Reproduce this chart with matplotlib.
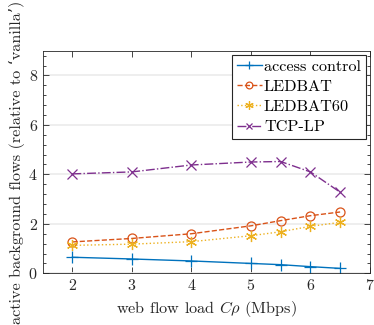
import numpy as np
import matplotlib.pyplot as plt
from matplotlib.ticker import MultipleLocator

plt.rcParams['font.family'] = ['cmr10', 'DejaVu Serif']
plt.rcParams['mathtext.fontset'] = 'cm'
plt.rcParams['axes.formatter.use_mathtext'] = True

# data
load = [2, 3, 4, 5, 5.5, 6, 6.5]
access_control = [0.65, 0.58, 0.50, 0.40, 0.35, 0.27, 0.20]
ledbat = [1.27, 1.41, 1.60, 1.92, 2.13, 2.33, 2.48]
ledbat60 = [1.13, 1.18, 1.28, 1.52, 1.68, 1.90, 2.06]
tcp_lp = [4.02, 4.10, 4.38, 4.50, 4.52, 4.10, 3.28]

fig = plt.figure(figsize=(3.74, 3.25), dpi=100)
ax = fig.add_axes([0.114, 0.159, 0.875, 0.685])

ax.plot(load, access_control, '-', marker='+', color='#0072BD', lw=1, ms=8,
        mew=0.9, label='access control')
ax.plot(load, ledbat, '--', marker='o', color='#D95319', lw=1, ms=6.5,
        mfc='none', mew=0.9, label='LEDBAT')
ax.plot(load, ledbat60, ':', marker=(6, 2, 0), color='#EDB120', lw=1, ms=8,
        mew=0.9, label='LEDBAT60')
ax.plot(load, tcp_lp, '-.', marker='x', color='#7E2F8E', lw=1, ms=6.5,
        mew=0.9, label='TCP-LP')

ax.set_xlim(1.5, 7)
ax.set_ylim(0, 9)
ax.set_xticks([2, 3, 4, 5, 6, 7])
ax.set_yticks([0, 2, 4, 6, 8])
ax.yaxis.set_minor_locator(MultipleLocator(0.4))
ax.tick_params(which='both', direction='in', top=True, right=True,
               labelsize=11.5, width=0.6, colors='#262626')
ax.tick_params(which='major', length=4)
ax.tick_params(which='minor', length=2)
ax.grid(axis='y', which='major', color='#ebebeb', lw=1.2)
ax.set_axisbelow(True)
for s in ax.spines.values():
    s.set_color('#262626')
    s.set_linewidth(0.6)

ax.set_xlabel(r'web flow load $C\rho$ (Mbps)', fontsize=11.7, color='#262626')
ax.set_ylabel('active background flows (relative to \u2018vanilla\u2019)',
              fontsize=11.7, color='#262626', labelpad=2)

leg = ax.legend(loc='upper right', fontsize=11.7, fancybox=False, framealpha=1,
                edgecolor='#262626', handlelength=1.5, handletextpad=0.15,
                borderpad=0.3, labelspacing=0.35, borderaxespad=0.25,
                markerscale=0.75)
leg.get_frame().set_linewidth(0.8)

fig.savefig('out.png', dpi=100)
